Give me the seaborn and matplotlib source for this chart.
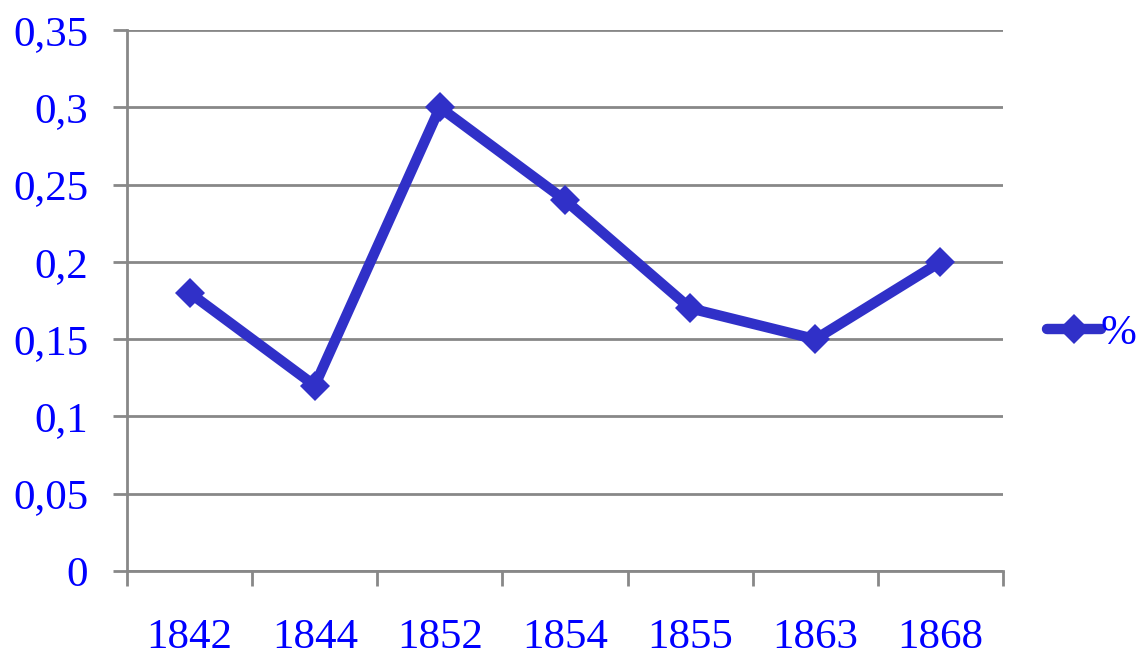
import matplotlib
matplotlib.use("Agg")
import matplotlib.pyplot as plt
import seaborn as sns
import pandas as pd
import numpy as np

# data
years = ["1842", "1844", "1852", "1854", "1855", "1863", "1868"]
share = [0.18, 0.12, 0.30, 0.24, 0.17, 0.15, 0.20]
y_ticks = [0, 0.05, 0.1, 0.15, 0.2, 0.25, 0.3, 0.35]
y_labels = ["0", "0,05", "0,1", "0,15", "0,2", "0,25", "0,3", "0,35"]

sns.set_style("white")
plt.rcParams["font.family"] = ["Liberation Serif", "DejaVu Serif"]

LINE = "#3030C8"
TEXT = "#0000FF"
GRID = "#888888"
FS = 31

df = pd.DataFrame({"year": years, "%": share})

fig = plt.figure(figsize=(11.45, 6.57), dpi=100)
ax = fig.add_axes([0.111, 0.131, 0.765, 0.823])

sns.lineplot(data=df, x="year", y="%", ax=ax, color=LINE, lw=7.5,
             marker="D", markersize=15, markeredgewidth=0, label="%",
             solid_joinstyle="round", solid_capstyle="round")

ax.set_xlim(-0.5, len(years) - 0.5)
ax.set_ylim(0, 0.35)
ax.set_yticks(y_ticks)
ax.set_yticklabels(y_labels)
ax.set_xticks(range(len(years)))
ax.set_xticklabels(years)
ax.set_xticks(np.arange(-0.5, len(years)), minor=True)
ax.set_xlabel("")
ax.set_ylabel("")

ax.yaxis.grid(True, color=GRID, lw=2)
ax.set_axisbelow(True)
for side in ["top", "right"]:
    ax.spines[side].set_visible(False)
for side in ["left", "bottom"]:
    ax.spines[side].set_color(GRID)
    ax.spines[side].set_linewidth(2)

ax.tick_params(axis="y", direction="out", length=10, width=2, color=GRID,
               left=True, pad=18, labelsize=FS, labelcolor=TEXT)
ax.tick_params(axis="x", which="major", length=0, pad=34,
               labelsize=FS, labelcolor=TEXT)
ax.tick_params(axis="x", which="minor", direction="out", length=11,
               width=2, color=GRID, bottom=True)

leg = ax.legend(loc="center left", bbox_to_anchor=(1.05, 0.44),
                frameon=False, fontsize=FS, handlelength=1.25,
                handletextpad=0.0, borderpad=0, borderaxespad=0)
for t in leg.get_texts():
    t.set_color(TEXT)

fig.savefig("out.png", dpi=100)
